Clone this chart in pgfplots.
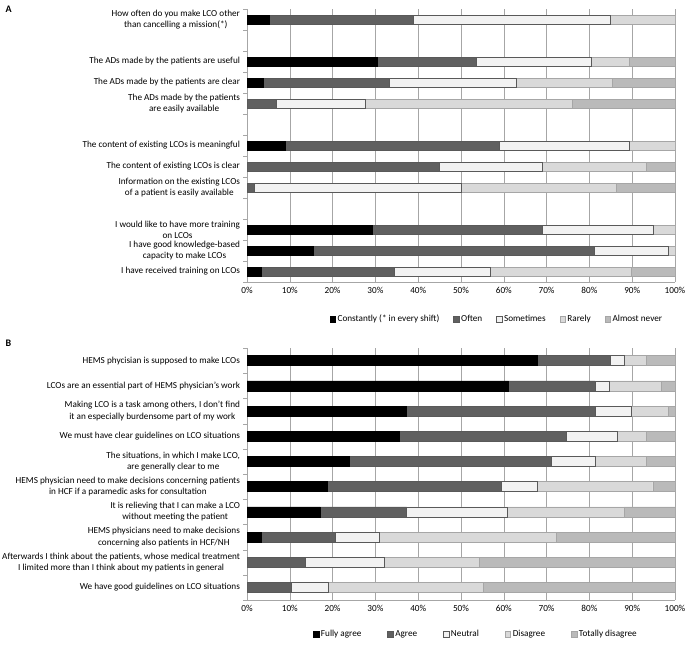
\documentclass[border=0pt]{standalone}
\usepackage{fontspec}
\setmainfont{Carlito}
\usepackage{pgfplots}
\pgfplotsset{compat=1.18}
\definecolor{cA}{HTML}{000000}
\definecolor{cB}{HTML}{606060}
\definecolor{cC}{HTML}{F2F2F2}
\definecolor{cD}{HTML}{D9D9D9}
\definecolor{cE}{HTML}{BABABA}
\definecolor{edge}{HTML}{595959}
\definecolor{gridc}{HTML}{A6A6A6}
\pgfplotsset{
  common/.style={
    xbar stacked, scale only axis, width=428pt,
    xmin=0, xmax=100, xtick={0,10,...,100},
    xticklabels={0\%,10\%,20\%,30\%,40\%,50\%,60\%,70\%,80\%,90\%,100\%},
    xmajorgrids, major grid style={gridc, line width=0.6pt},
    axis x line*=bottom, axis y line*=left,
    axis line style={gridc,-},
    y dir=reverse,
    major tick length=0pt, minor tick length=4pt,
    tick align=outside, minor tick style={gridc},
    every tick label/.append style={font=\fontsize{9.2}{11.2}\selectfont},
    yticklabel style={align=center, xshift=-3.5pt},
    xticklabel style={yshift=-2pt},
    legend columns=5,
    legend style={draw=none, font=\fontsize{9.2}{11.2}\selectfont, anchor=center,
      /tikz/every even column/.append style={column sep=12pt}},
    legend cell align=left,
    legend image code/.code={\draw[#1] (0pt,-2.7pt) rectangle (5.4pt,2.7pt);},
  },
  sA/.style={fill=cA, draw=black, line width=0.4pt},
  sB/.style={fill=cB, draw=edge, line width=0.4pt},
  sC/.style={fill=cC, draw=edge, line width=0.4pt},
  sD/.style={fill=cD, draw=gridc, line width=0.4pt},
  sE/.style={fill=cE, draw=gridc, line width=0.4pt},
}
\begin{document}
\begin{tikzpicture}
\useasboundingbox (0,0) rectangle (685pt,-649pt);
\node[anchor=north west, font=\bfseries\fontsize{10}{12}\selectfont] at (2pt,-2pt) {A};
\node[anchor=north west, font=\bfseries\fontsize{10}{12}\selectfont] at (2pt,-336pt) {B};
\begin{axis}[common, at={(247pt,-9pt)}, anchor=north west, height=273pt,
  ymin=0.5, ymax=13.5, bar width=8.5pt,
  ytick={1,3,4,5,7,8,9,11,12,13},
  minor ytick={0.5,1.5,...,13.5},
  yticklabels={{How often do you make LCO other\\than cancelling a mission(*)},
    {The ADs made by the patients are useful},
    {The ADs made by the patients are clear},
    {The ADs made by the patients\\are easily available},
    {The content of existing LCOs is meaningful},
    {The content of existing LCOs is clear},
    {Information on the existing LCOs\\of a patient is easily available},
    {I would like to have more training\\on LCOs},
    {I have good knowledge-based\\capacity to make LCOs},
    {I have received training on LCOs}},
  legend style={at={(0.584,-0.136)}},
]
\addplot[sA] coordinates {(5.1,1) (30.4,3) (3.7,4) (0,5) (8.9,7) (0,8) (0,9) (29.3,11) (15.5,12) (3.4,13)};
\addplot[sB] coordinates {(33.8,1) (23.2,3) (29.6,4) (6.9,5) (50.1,7) (44.9,8) (1.6,9) (39.7,11) (65.7,12) (31.1,13)};
\addplot[sC] coordinates {(45.9,1) (26.8,3) (29.7,4) (20.6,5) (30.3,7) (24.1,8) (48.4,9) (25.9,11) (17.2,12) (22.3,13)};
\addplot[sD] coordinates {(15.2,1) (8.9,3) (22.3,4) (48.5,5) (10.7,7) (24.2,8) (36.3,9) (5.1,11) (1.6,12) (33.0,13)};
\addplot[sE] coordinates {(0,1) (10.7,3) (14.7,4) (24.0,5) (0,7) (6.8,8) (13.7,9) (0,11) (0,12) (10.2,13)};
\legend{Constantly (* in every shift),Often,Sometimes,Rarely,Almost never}
\end{axis}
\begin{axis}[common, at={(247pt,-348pt)}, anchor=north west, height=252pt,
  ymin=0.5, ymax=10.5, bar width=10pt,
  ytick={1,...,10},
  minor ytick={0.5,1.5,...,10.5},
  yticklabels={{HEMS phycisian is supposed to make LCOs},
    {LCOs are an essential part of HEMS physician’s work},
    {Making LCO is a task among others, I don’t find\\it an especially burdensome part of my work},
    {We must have clear guidelines on LCO situations},
    {The situations, in which I make LCO,\\are generally clear to me},
    {HEMS physician need to make decisions concerning patients\\in HCF if a paramedic asks for consultation},
    {It is relieving that I can make a LCO\\without meeting the patient},
    {HEMS physicians need to make decisions\\concerning also patients in HCF/NH},
    {Afterwards I think about the patients, whose medical treatment\\I limited more than I think about my patients in general},
    {We have good guidelines on LCO situations}},
  legend style={at={(0.535,-0.135)}, /tikz/every even column/.append style={column sep=24pt}},
]
\addplot[sA] coordinates {(67.8,1) (61.1,2) (37.3,3) (35.6,4) (23.8,5) (18.7,6) (17.0,7) (3.4,8) (0,9) (0,10)};
\addplot[sB] coordinates {(17.0,1) (20.2,2) (44.0,3) (38.9,4) (47.3,5) (40.6,6) (20.3,7) (17.2,8) (13.5,9) (10.4,10)};
\addplot[sC] coordinates {(3.3,1) (3.4,2) (8.4,3) (12.0,4) (10.2,5) (8.4,6) (23.6,7) (10.4,8) (18.6,9) (8.5,10)};
\addplot[sD] coordinates {(5.1,1) (12.0,2) (8.7,3) (6.7,4) (11.9,5) (27.1,6) (27.2,7) (41.3,8) (22.1,9) (36.2,10)};
\addplot[sE] coordinates {(6.8,1) (3.3,2) (1.6,3) (6.8,4) (6.8,5) (5.2,6) (11.9,7) (27.7,8) (45.8,9) (44.9,10)};
\legend{Fully agree,Agree,Neutral,Disagree,Totally disagree}
\end{axis}
\end{tikzpicture}
\end{document}
